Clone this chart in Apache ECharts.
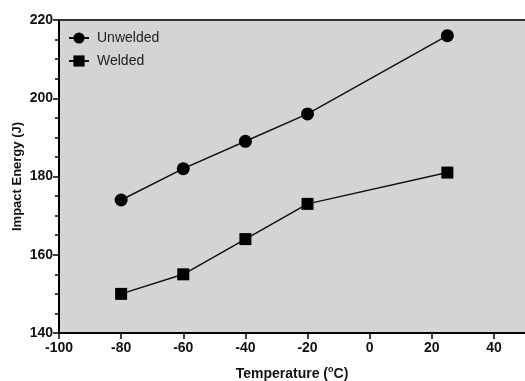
<!DOCTYPE html>
<html>
<head>
<meta charset="utf-8">
<script src="https://cdn.jsdelivr.net/npm/echarts@6/dist/echarts.min.js"></script>
<style>
  html, body { margin: 0; padding: 0; background: #fff; }
  #chart { width: 525px; height: 381px; }
</style>
</head>
<body>
<div id="chart"></div>
<script>
var temps = [-80, -60, -40, -20, 25]
var unwelded = [174, 182, 189, 196, 216]
var welded = [150, 155, 164, 173, 181]

function pairs (xs, ys) {
  var out = []
  for (var i = 0; i < xs.length; i++) {
    out.push([xs[i], ys[i]])
  }
  return out
}

var font = 'Liberation Sans, Arial, sans-serif'
var chart = echarts.init(document.getElementById('chart'))
chart.setOption({
  animation: false,
  backgroundColor: '#fff',
  grid: {
    left: 59,
    top: 20,
    right: 0,
    bottom: 48,
    outerBoundsMode: 'none',
    containLabel: false,
    show: true,
    backgroundColor: '#d4d4d4',
    borderWidth: 0
  },
  legend: {
    orient: 'vertical',
    left: 63,
    top: 26,
    itemWidth: 20,
    itemHeight: 14,
    itemGap: 9,
    textStyle: { fontFamily: font, fontSize: 14, color: '#222', padding: [0, 0, 0, 3] },
    data: ['Unwelded', 'Welded']
  },
  xAxis: [
    {
      type: 'value',
      min: -100,
      max: 50,
      interval: 20,
      name: 'Temperature ({sup|o}C)',
      nameLocation: 'middle',
      nameGap: 32,
      nameTextStyle: {
        fontFamily: font, fontSize: 14, fontWeight: 'bold', color: '#111',
        rich: { sup: { fontFamily: font, fontSize: 9, fontWeight: 'bold', color: '#111', verticalAlign: 'top', padding: [0, 0, 9, 0] } }
      },
      axisLine: { onZero: false, lineStyle: { color: '#000', width: 2 } },
      axisTick: { length: 6, lineStyle: { color: '#000', width: 1.5 } },
      axisLabel: { fontFamily: font, fontSize: 14, fontWeight: 'bold', color: '#111', margin: 8, showMaxLabel: false },
      splitLine: { show: false }
    },
    {
      type: 'value',
      position: 'top',
      min: -100,
      max: 50,
      axisLine: { show: true, onZero: false, lineStyle: { color: '#333', width: 2 } },
      axisTick: { show: false },
      axisLabel: { show: false },
      splitLine: { show: false }
    }
  ],
  yAxis: {
    type: 'value',
    min: 140,
    max: 220,
    interval: 20,
    name: 'Impact Energy (J)',
    nameLocation: 'middle',
    nameGap: 35,
    nameMoveOverlap: false,
    nameTextStyle: { fontFamily: font, fontSize: 13, fontWeight: 'bold', color: '#111' },
    axisLine: { show: true, onZero: false, lineStyle: { color: '#000', width: 2 } },
    axisTick: { length: 6, lineStyle: { color: '#000', width: 1.5 } },
    minorTick: { show: true, splitNumber: 4, length: 4, lineStyle: { color: '#000', width: 1.5 } },
    axisLabel: { fontFamily: font, fontSize: 14, fontWeight: 'bold', color: '#111', margin: 6 },
    splitLine: { show: false },
    minorSplitLine: { show: false }
  },
  series: [
    {
      name: 'Unwelded',
      type: 'line',
      data: pairs(temps, unwelded),
      symbol: 'circle',
      symbolSize: 13,
      itemStyle: { color: '#000' },
      lineStyle: { color: '#111', width: 1.5 }
    },
    {
      name: 'Welded',
      type: 'line',
      data: pairs(temps, welded),
      symbol: 'rect',
      symbolSize: 12,
      itemStyle: { color: '#000' },
      lineStyle: { color: '#111', width: 1.5 }
    }
  ]
})
</script>
</body>
</html>
